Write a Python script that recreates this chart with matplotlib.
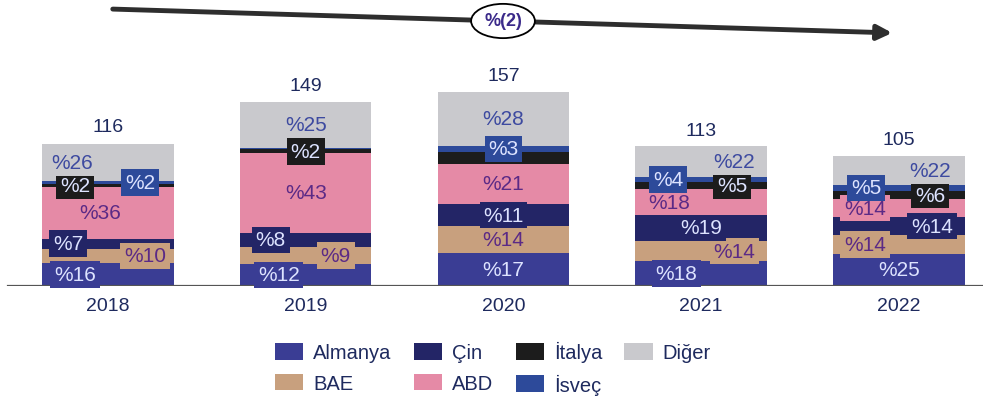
import numpy as np
import matplotlib.pyplot as plt
from matplotlib.patches import Patch

plt.rcParams['font.family'] = ['Liberation Sans', 'DejaVu Sans']

# veriler
years = ['2018', '2019', '2020', '2021', '2022']
totals = [116, 149, 157, 113, 105]

# ulke paylari (%), alttan uste yigin sirasi
almanya = [16, 12, 17, 18, 25]
bae = [10, 9, 14, 14, 14]
cin = [7, 8, 11, 19, 14]
abd = [36, 43, 21, 18, 14]
italya = [2, 2, 6, 5, 6]
isvec = [2, 1, 3, 4, 5]
diger = [26, 25, 28, 22, 22]

# grafikte etiketi yazilmayan dilimler (seri, yil indeksi)
hidden = {('İsveç', 1), ('İtalya', 2)}

# renkler
dark_txt = '#dde3ff'
light_txt = '#5b2a86'
navy = '#1e2a5e'

# etiketlerin yatay kaydirmasi (piksel, cubuk merkezine gore)
series = [
    ('Almanya', almanya, '#3a3d94', dark_txt, [-33, -27, 0, -25, 0]),
    ('BAE', bae, '#c8a07e', light_txt, [37, 30, 0, 33, -34]),
    ('Çin', cin, '#232566', dark_txt, [-40, -35, 0, 0, 33]),
    ('ABD', abd, '#e58aa6', light_txt, [-8, 0, 0, -32, -34]),
    ('İtalya', italya, '#1c1c1c', dark_txt, [-33, 0, 0, 31, 31]),
    ('İsveç', isvec, '#2d4a9a', dark_txt, [32, 0, 0, -33, -33]),
    ('Diğer', diger, '#c9c9cd', '#3d4aa0', [-36, 0, 0, 33, 31]),
]

W, H = 983, 406
px_per_unit = 197.75
fig = plt.figure(figsize=(W / 100, H / 100), dpi=100)
ax = fig.add_axes([0, 119 / H, 1, 247.6 / H])
ax.set_xlim(-0.546, 4.425)
ax.set_ylim(0, 200)
ax.axis('off')

x = np.arange(len(years))
tot = np.array(totals, dtype=float)
bottom = np.zeros(len(years))
for name, vals, col, tcol, offs in series:
    h = tot * np.array(vals) / 100.0
    ax.bar(x, h, bottom=bottom, width=0.665, color=col, edgecolor='none', zorder=2)
    for i in range(len(years)):
        if (name, i) in hidden:
            continue
        ax.text(x[i] + offs[i] / px_per_unit, bottom[i] + h[i] / 2, f"%{vals[i]}",
                ha='center', va='center', fontsize=15, color=tcol, zorder=4,
                bbox=dict(boxstyle='square,pad=0.18', fc=col, ec='none'))
    bottom += h

# taban cizgisi
ax.plot([-0.506, 4.425], [0, 0], color='#555555', lw=1.6, zorder=3)

# toplamlar ve yillar
for i in range(len(years)):
    ax.text(x[i], tot[i] + 13, str(totals[i]), ha='center', va='center',
            fontsize=14, color=navy)
    ax.text(x[i], -16, years[i], ha='center', va='center', fontsize=14, color=navy)

# ust ok ve ortalama degisim
ax.annotate('', xy=(895, H - 34), xytext=(110, H - 10), xycoords='figure pixels',
            arrowprops=dict(arrowstyle='-|>', lw=3.5, color='#2e2e2e', mutation_scale=22))
fig.text(503 / W, 1 - 22 / H, '%(2)', ha='center', va='center', fontsize=13,
         color='#3b2a8a', fontweight='bold', zorder=5,
         bbox=dict(boxstyle='ellipse,pad=0.2', fc='white', ec='black', lw=1.3))

# lejant
handles = [Patch(facecolor=s[2], edgecolor='none', label=s[0]) for s in series]
ax.legend(handles=handles, ncol=4, loc='center', frameon=False,
          bbox_to_anchor=(493 / W, 1 - 369 / H), bbox_transform=fig.transFigure,
          fontsize=14.5, labelcolor=navy, handlelength=1.4, handleheight=0.9,
          handletextpad=0.5, columnspacing=1.1, labelspacing=0.55, borderpad=0)

fig.savefig('out.png', dpi=100)
